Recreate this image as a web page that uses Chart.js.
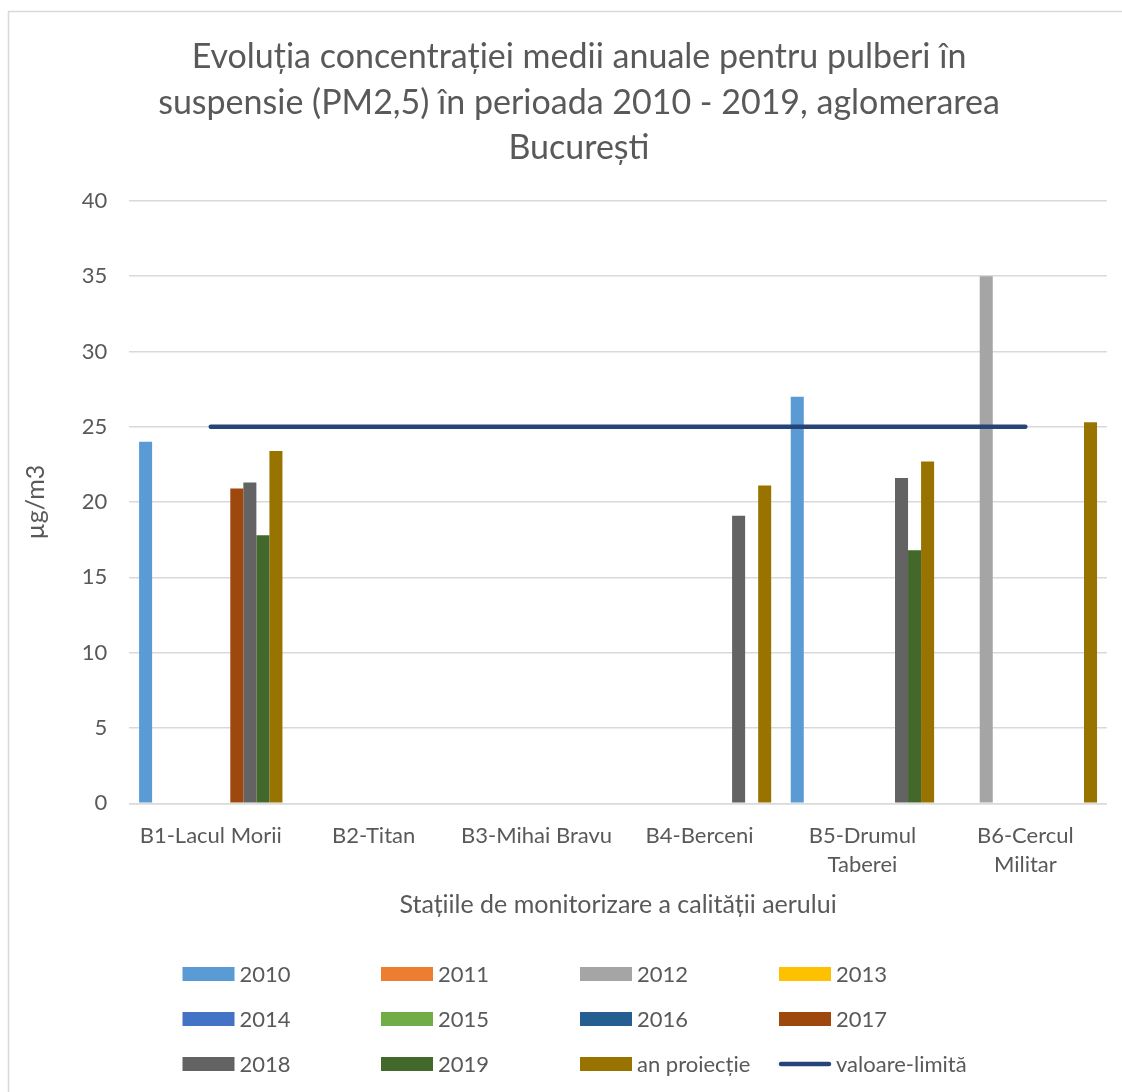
<!DOCTYPE html>
<html>
<head>
<meta charset="utf-8">
<script src="https://cdn.jsdelivr.net/npm/chart.js@4/dist/chart.umd.min.js"></script>
<style>
  html, body { margin: 0; padding: 0; background: #ffffff; overflow: hidden; }
  canvas { display: block; }
</style>
</head>
<body>
<canvas id="c" width="1122" height="1092"></canvas>
<script>
// Monitoring stations (x categories; multi-line labels as arrays)
const stations = [
  ["B1-Lacul Morii"],
  ["B2-Titan"],
  ["B3-Mihai Bravu"],
  ["B4-Berceni"],
  ["B5-Drumul", "Taberei"],
  ["B6-Cercul", "Militar"]
];

// Annual mean PM2.5 concentration (µg/m3) per station
const y2010 = [24.0, null, null, null, 27.0, null];
const y2011 = [null, null, null, null, null, null];
const y2012 = [null, null, null, null, null, 35.0];
const y2013 = [null, null, null, null, null, null];
const y2014 = [null, null, null, null, null, null];
const y2015 = [null, null, null, null, null, null];
const y2016 = [null, null, null, null, null, null];
const y2017 = [20.9, null, null, null, null, null];
const y2018 = [21.3, null, null, 19.1, 21.6, null];
const y2019 = [17.8, null, null, null, 16.8, null];
const projection = [23.4, null, null, 21.1, 22.7, 25.3];
const limitValue = [25, 25, 25, 25, 25, 25];

const yTicks = { min: 0, max: 40, step: 5 };

const titleLines = [
  "Evoluția concentrației medii anuale pentru pulberi în",
  "suspensie (PM2,5) în perioada 2010 - 2019, aglomerarea",
  "București"
];
const xTitle = "Stațiile de monitorizare a calității aerului";
const yTitle = "µg/m3";

const barSeries = [
  { label: "2010", data: y2010, color: "#5B9BD5" },
  { label: "2011", data: y2011, color: "#ED7D31" },
  { label: "2012", data: y2012, color: "#A5A5A5" },
  { label: "2013", data: y2013, color: "#FFC000" },
  { label: "2014", data: y2014, color: "#4472C4" },
  { label: "2015", data: y2015, color: "#70AD47" },
  { label: "2016", data: y2016, color: "#255E91" },
  { label: "2017", data: y2017, color: "#9E480E" },
  { label: "2018", data: y2018, color: "#636363" },
  { label: "2019", data: y2019, color: "#43682B" },
  { label: "an proiecție", data: projection, color: "#997300" }
];

const TEXT = "#595959";
const GRID = "#D9D9D9";
const FONT = "Lato, 'Open Sans', sans-serif";

const datasets = barSeries.map(s => ({
  type: "bar",
  label: s.label,
  data: s.data,
  backgroundColor: s.color,
  borderWidth: 0,
  categoryPercentage: 0.88,
  barPercentage: 1.0,
  order: 2
}));
datasets.push({
  type: "line",
  label: "valoare-limită",
  data: limitValue,
  borderColor: "#264478",
  backgroundColor: "#264478",
  borderWidth: 4.5,
  borderCapStyle: "round",
  pointRadius: 0,
  tension: 0,
  order: 1
});

// Frame, titles and the 4-column legend drawn on the canvas
const decorations = {
  id: "decorations",
  beforeDraw(chart) {
    const ctx = chart.ctx;
    ctx.save();
    ctx.fillStyle = "#ffffff";
    ctx.fillRect(0, 0, chart.width, chart.height);
    ctx.strokeStyle = GRID;
    ctx.lineWidth = 1.5;
    ctx.strokeRect(8.5, 11.5, 1130, 1100);
    ctx.restore();
  },
  afterDraw(chart) {
    const ctx = chart.ctx;
    const area = chart.chartArea;
    ctx.save();
    ctx.fillStyle = TEXT;
    ctx.textAlign = "center";
    ctx.textBaseline = "middle";

    // chart title
    ctx.font = "34px " + FONT;
    const titleY = [57, 103, 148];
    titleLines.forEach((t, i) => ctx.fillText(t, 579, titleY[i]));

    // axis titles
    ctx.font = "25px " + FONT;
    ctx.fillText(xTitle, (area.left + area.right) / 2, 905);
    ctx.save();
    ctx.translate(36, (area.top + area.bottom) / 2);
    ctx.rotate(-Math.PI / 2);
    ctx.fillText(yTitle, 0, 0);
    ctx.restore();

    // legend
    ctx.textAlign = "left";
    ctx.font = "22px " + FONT;
    const colX = [182.5, 381, 580, 779];
    const rowY = [974, 1019, 1064];
    chart.data.datasets.forEach((ds, i) => {
      const x = colX[i % 4];
      const y = rowY[Math.floor(i / 4)];
      if (ds.type === "line") {
        ctx.strokeStyle = ds.borderColor;
        ctx.lineWidth = 4.5;
        ctx.lineCap = "round";
        ctx.beginPath();
        ctx.moveTo(x + 2, y);
        ctx.lineTo(x + 50, y);
        ctx.stroke();
      } else {
        ctx.fillStyle = ds.backgroundColor;
        ctx.fillRect(x, y - 7, 52, 14);
      }
      ctx.fillStyle = TEXT;
      ctx.fillText(ds.label, x + 57, y + 1);
    });
    ctx.restore();
  }
};

function draw() {
  new Chart(document.getElementById("c"), {
    data: { labels: stations, datasets },
    options: {
      responsive: false,
      animation: false,
      devicePixelRatio: 1,
      layout: { padding: { left: 0, right: 15.2, top: 200.9, bottom: 188.7 } },
      plugins: {
        legend: { display: false },
        title: { display: false },
        tooltip: { enabled: false }
      },
      scales: {
        x: {
          type: "category",
          offset: true,
          grid: { display: false, drawTicks: false },
          border: { display: true, color: GRID, width: 1.5 },
          ticks: {
            color: TEXT,
            font: { family: FONT, size: 22, lineHeight: 1.32 },
            padding: 18,
            maxRotation: 0,
            autoSkip: false
          },
          afterFit(scale) { scale.height = 100; }
        },
        y: {
          min: yTicks.min,
          max: yTicks.max,
          grid: { color: GRID, lineWidth: 1.5, drawTicks: false },
          border: { display: false },
          ticks: {
            stepSize: yTicks.step,
            color: TEXT,
            font: { family: FONT, size: 22 },
            padding: 22
          },
          afterFit(scale) { scale.width = 129.3; }
        }
      }
    },
    plugins: [decorations]
  });
}

if (document.fonts && document.fonts.load) {
  document.fonts.load("20px Lato").then(draw, draw);
} else {
  draw();
}
</script>
</body>
</html>
